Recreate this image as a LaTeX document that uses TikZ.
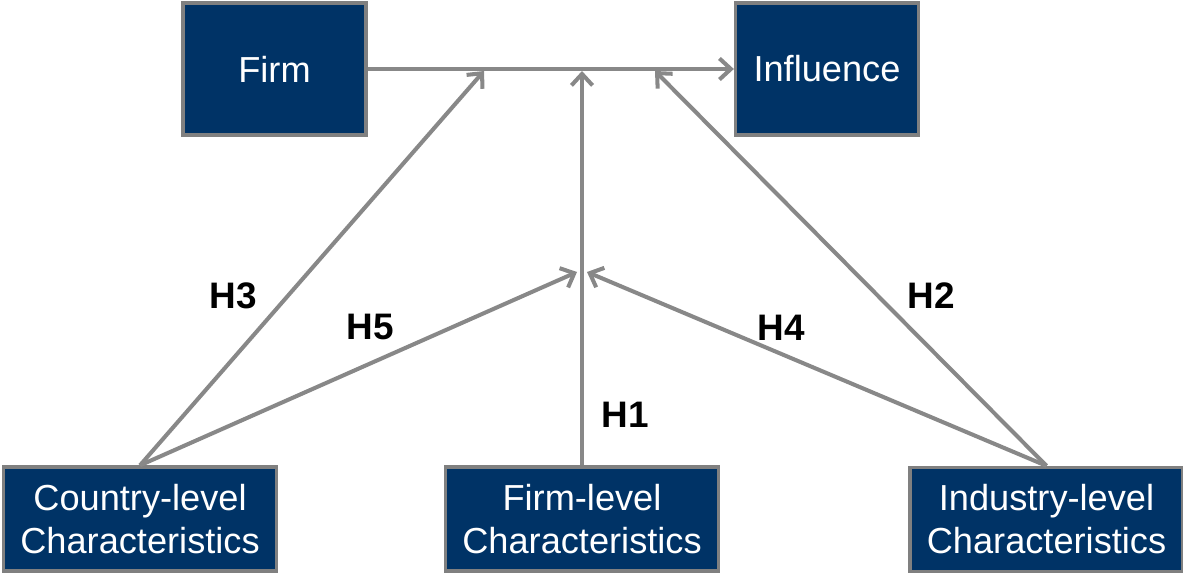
\documentclass[tikz,border=0pt]{standalone}
\usepackage{fontspec}
\setmainfont{Liberation Sans}
\usetikzlibrary{arrows.meta}
\definecolor{boxblue}{RGB}{0,51,102}
\definecolor{edgegray}{RGB}{128,128,128}
\definecolor{linegray}{RGB}{136,136,136}
\begin{document}
\begin{tikzpicture}[x=.02cm,y=-.02cm,
  box/.style={draw=edgegray,line width=1.9pt,fill=boxblue,text=white,align=center,font=\fontsize{20.6}{24.5}\selectfont},
  topbox/.style={box,minimum width=3.66cm,minimum height=2.64cm},
  basebox/.style={box,minimum width=5.46cm,minimum height=2.08cm},
  hyp/.style={linegray,line width=2.3pt,-{Straight Barb[length=6.5pt,width=12pt]}},
  lab/.style={font=\fontsize{21}{24}\selectfont\bfseries}]
\useasboundingbox (0,0) rectangle (1183,573);
\node[topbox] (firm) at (274.5,69) {Firm}; \node[topbox] (infl) at (827,69) {Influence};
\node[basebox] (cty) at (140,519) {Country-level\\Characteristics};
\node[basebox] (flc) at (582,519) {Firm-level\\Characteristics};
\node[basebox] (ind) at (1046.5,519.5) {Industry-level\\Characteristics};
\coordinate (m3) at (484,71); \coordinate (m1) at (582,71); \coordinate (m2) at (655,71);
\coordinate (c5) at (577,272); \coordinate (c4) at (587,272);
\draw[hyp] (firm) -- (infl);
\foreach \a/\b in {cty.north/m3,flc.north/m1,ind.north/m2,cty.north/c5,ind.north/c4} \draw[hyp] (\a) -- (\b);
\foreach \h/\x/\y in {H3/233/296,H5/370/327,H1/625/415,H4/781/328,H2/931/296} \node[lab] (\h) at (\x,\y) {\h};
\end{tikzpicture}
\end{document}
